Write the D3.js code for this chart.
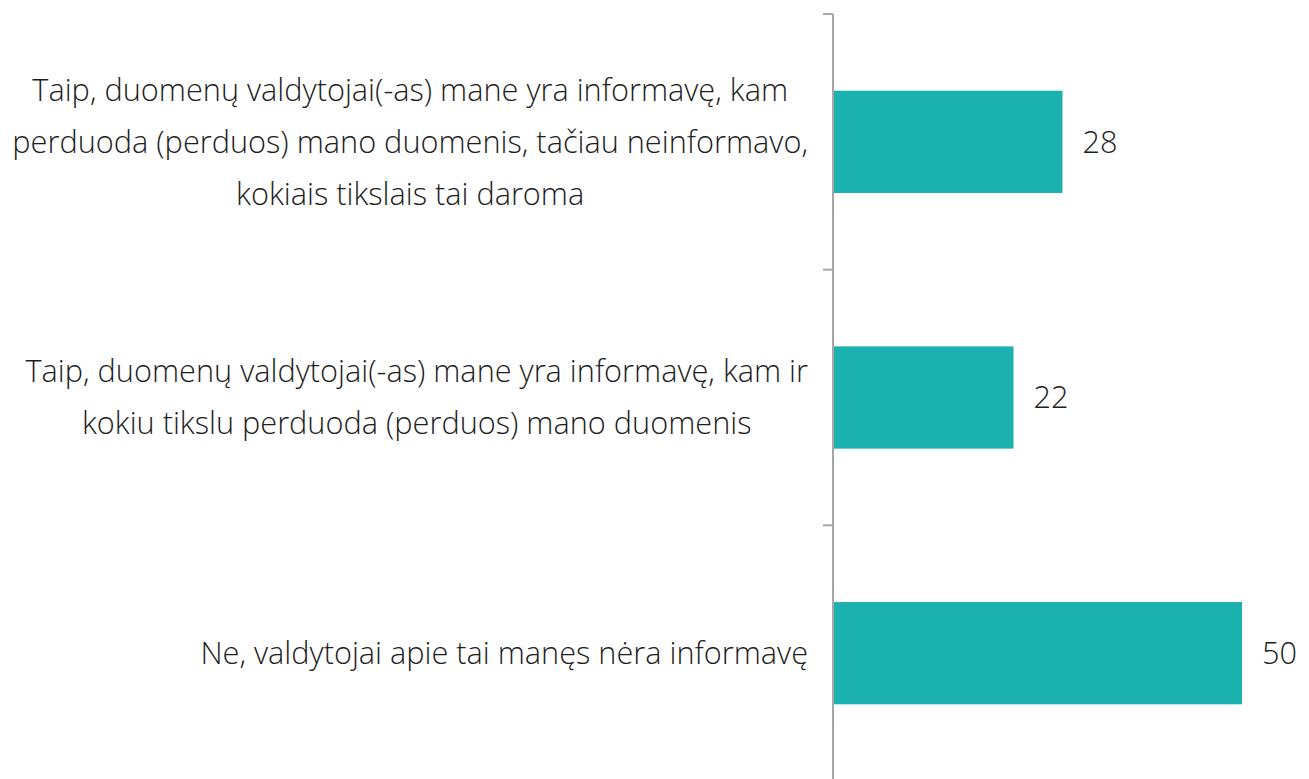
<!DOCTYPE html>
<html>
<head>
<meta charset="utf-8">
<script src="https://cdn.jsdelivr.net/npm/d3@7"></script>
<style>
  html, body { margin: 0; padding: 0; background: #fff; }
  svg { display: block; }
  text { font-family: "Open Sans", "Noto Sans", sans-serif; font-weight: 300; fill: #1e1e1e; }
</style>
</head>
<body>
<svg id="chart" width="1309" height="779"></svg>
<script>
// Data
const categories = [
  ["Taip, duomenų valdytojai(-as) mane yra informavę, kam", "perduoda (perduos) mano duomenis, tačiau neinformavo,", "kokiais tikslais tai daroma"],
  ["Taip, duomenų valdytojai(-as) mane yra informavę, kam ir", "kokiu tikslu perduoda (perduos) mano duomenis"],
  ["Ne, valdytojai apie tai manęs nėra informavę"]
];
const values = [28, 22, 50];
const valueLabels = ["28", "22", "50"];

const svg = d3.select("#chart");
const axisX = 833;
const fontSize = 30.7;
const lineH = 52;

const keys = categories.map((c, i) => i);
const y = d3.scaleBand().domain(keys).range([14, 781]).paddingInner(0.6).paddingOuter(0.3);
const x = d3.scaleLinear().domain([0, 50]).range([axisX + 1, 1242]);

// bars
svg.selectAll("rect.bar").data(values).join("rect")
  .attr("class", "bar")
  .attr("x", x(0))
  .attr("y", (d, i) => y(i))
  .attr("width", d => x(d) - x(0))
  .attr("height", y.bandwidth())
  .attr("fill", "#1bb1af");

// axis line and ticks at band boundaries
const step = y.step();
const boundaries = keys.map(k => y(k) - step * 0.3).concat([y(keys[keys.length - 1]) + y.bandwidth() + step * 0.3]);
svg.append("line")
  .attr("x1", axisX).attr("x2", axisX)
  .attr("y1", boundaries[0]).attr("y2", boundaries[boundaries.length - 1])
  .attr("stroke", "#a6a6a6").attr("stroke-width", 2);
svg.selectAll("line.tick").data(boundaries).join("line")
  .attr("class", "tick")
  .attr("x1", axisX - 10).attr("x2", axisX)
  .attr("y1", d => d).attr("y2", d => d)
  .attr("stroke", "#a6a6a6").attr("stroke-width", 2);

// category labels
const labelRight = 808;
categories.forEach((lines, i) => {
  const g = svg.append("g");
  const cy = y(i) + y.bandwidth() / 2;
  const texts = g.selectAll("text").data(lines).join("text")
    .attr("font-size", fontSize)
    .attr("text-anchor", "middle")
    .attr("dy", "0.35em")
    .attr("y", (d, j) => cy + (j - (lines.length - 1) / 2) * lineH)
    .text(d => d);
  let maxW = 0;
  texts.each(function () { maxW = Math.max(maxW, this.getComputedTextLength()); });
  texts.attr("x", labelRight - maxW / 2);
});

// value labels
svg.selectAll("text.val").data(values).join("text")
  .attr("class", "val")
  .attr("font-size", fontSize)
  .attr("x", d => x(d) + 20)
  .attr("y", (d, i) => y(i) + y.bandwidth() / 2)
  .attr("dy", "0.35em")
  .text((d, i) => valueLabels[i]);
</script>
</body>
</html>
